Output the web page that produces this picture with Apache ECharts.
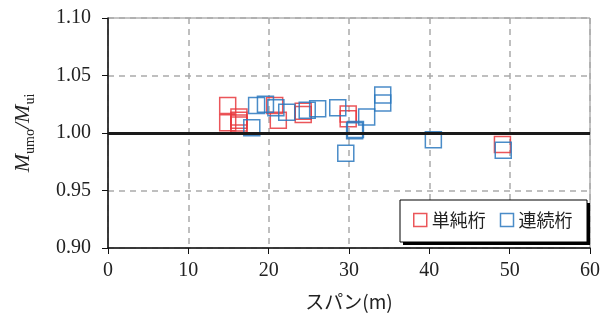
<!DOCTYPE html>
<html>
<head>
<meta charset="utf-8">
<script src="https://cdn.jsdelivr.net/npm/echarts@6/dist/echarts.min.js"></script>
<style>html,body{margin:0;padding:0;background:#fff;}#c{width:608px;height:320px;}</style>
</head>
<body>
<div id="c"></div>
<script>
// Data
var simpleX = [14.9, 14.9, 16.3, 16.3, 16.3, 16.3, 20.75, 21.2, 24.3, 24.3, 29.9, 29.9, 49.1];
var simpleY = [1.024, 1.009, 1.014, 1.011, 1.0087, 1.007, 1.024, 1.011, 1.019, 1.016, 1.0165, 1.0125, 0.990];
var contX = [17.9, 18.5, 19.6, 20.9, 22.25, 24.8, 26.1, 28.6, 29.6, 30.7, 30.8, 32.2, 34.2, 34.2, 40.5, 49.2];
var contY = [1.0046, 1.024, 1.025, 1.022, 1.018, 1.0197, 1.021, 1.022, 0.9823, 1.002, 1.003, 1.014, 1.033, 1.026, 0.9942, 0.985];
var xTicks = [0, 10, 20, 30, 40, 50, 60];
var yTicks = [0.90, 0.95, 1.00, 1.05, 1.10];
var seriesNames = ['単純桁', '連続桁'];
var seriesColors = ['#e8383d', '#2a78be'];

function pairs(xs, ys) { return xs.map(function (x, i) { return [x, ys[i]]; }); }

var chart = echarts.init(document.getElementById('c'), null, { renderer: 'canvas' });
var serif = '"Liberation Serif", "DejaVu Serif", serif';
chart.setOption({
  animation: false,
  grid: { left: 108, right: 18, top: 18, bottom: 72, show: true, borderColor: '#8a8a8a', borderWidth: 1, backgroundColor: 'transparent' },
  graphic: [
    { type: 'rect', z: 100, shape: { x: 403, y: 203, width: 187, height: 42 }, style: { fill: '#000' } },
    { type: 'rect', z: 101, shape: { x: 400, y: 200, width: 187, height: 42 }, style: { fill: '#fff', stroke: '#000', lineWidth: 1 } }
  ],
  legend: {
    left: 413, top: 211, z: 200,
    padding: 0,
    itemGap: 14, itemWidth: 13, itemHeight: 13,
    textStyle: { fontFamily: '"Noto Sans CJK JP"', fontSize: 18, color: '#222' },
    data: seriesNames.map(function (n, i) {
      return { name: n, icon: 'rect', itemStyle: { color: '#fff', borderColor: seriesColors[i], borderWidth: 1.5 } };
    })
  },
  xAxis: {
    type: 'value', min: xTicks[0], max: xTicks[xTicks.length - 1], interval: 10,
    name: 'スパン(m)', nameLocation: 'middle', nameGap: 44,
    nameTextStyle: { fontFamily: '"Noto Sans CJK JP"', fontSize: 19, color: '#222' },
    axisLine: { onZero: false, lineStyle: { color: '#111', width: 1.5 } },
    axisTick: { show: true, inside: false, length: 6, lineStyle: { color: '#111', width: 1 } },
    axisLabel: { fontFamily: serif, fontSize: 20, color: '#222', margin: 13 },
    splitLine: { show: true, lineStyle: { color: '#aaa', type: [6, 5], width: 1.5 } }
  },
  yAxis: {
    type: 'value', min: yTicks[0], max: yTicks[yTicks.length - 1], interval: 0.05,
    name: '{i|M}{s|umo}{i|/M}{s|ui}', nameLocation: 'middle', nameGap: 74, nameRotate: 90,
    nameTextStyle: {
      color: '#222',
      rich: {
        i: { fontFamily: serif, fontStyle: 'italic', fontSize: 22, color: '#222', lineHeight: 26, verticalAlign: 'bottom' },
        s: { fontFamily: serif, fontSize: 14, color: '#222', lineHeight: 14, verticalAlign: 'bottom', padding: [0, 0, -3, 0] }
      }
    },
    axisLine: { show: true, onZero: false, lineStyle: { color: '#111', width: 1.5 } },
    axisTick: { show: true, inside: false, length: 6, lineStyle: { color: '#111', width: 1 } },
    axisLabel: { fontFamily: serif, fontSize: 20, color: '#222', margin: 17, formatter: function (v) { return v.toFixed(2); } },
    splitLine: { show: true, lineStyle: { color: '#aaa', type: [6, 5], width: 1.5 } }
  },
  series: [
    {
      name: seriesNames[0], type: 'scatter', symbol: 'rect', symbolSize: 16,
      itemStyle: { color: 'rgba(0,0,0,0)', borderColor: seriesColors[0], borderWidth: 1.5, opacity: 0.85 },
      data: pairs(simpleX, simpleY),
      markLine: {
        silent: true, symbol: 'none', label: { show: false },
        lineStyle: { color: '#1a1a1a', width: 3, type: 'solid' },
        data: [{ yAxis: 1.0 }]
      },
      z: 3
    },
    {
      name: seriesNames[1], type: 'scatter', symbol: 'rect', symbolSize: 16,
      itemStyle: { color: 'rgba(0,0,0,0)', borderColor: seriesColors[1], borderWidth: 1.5, opacity: 0.85 },
      data: pairs(contX, contY),
      z: 4
    }
  ]
});
</script>
</body>
</html>
